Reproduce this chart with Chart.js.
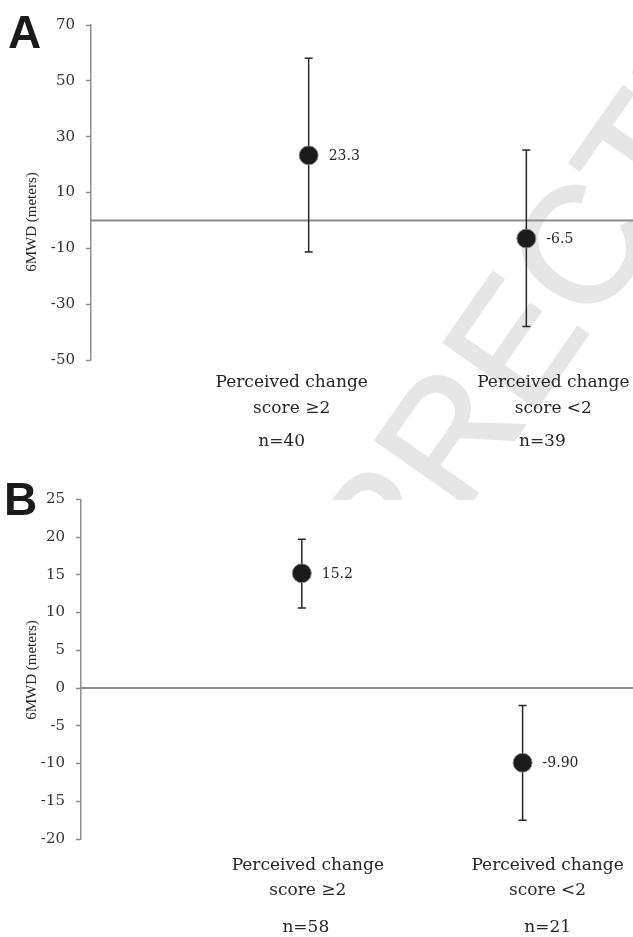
<!DOCTYPE html>
<html>
<head>
<meta charset="utf-8">
<script src="https://cdn.jsdelivr.net/npm/chart.js@4.4.1/dist/chart.umd.min.js"></script>
<style>
html, body { margin: 0; padding: 0; background: #fff; }
#wrap { position: relative; width: 633px; height: 937px; overflow: hidden; }
#chartA { position: absolute; left: 0; top: 0; }
#chartB { position: absolute; left: 0; top: 460px; }
</style>
</head>
<body>
<div id="wrap">
  <canvas id="chartA" width="633" height="500"></canvas>
  <canvas id="chartB" width="633" height="477"></canvas>
</div>
<script>
// --- DATA ---
const groups = [['Perceived change', 'score \u22652'], ['Perceived change', 'score <2']];
const groupX = [1, 2];

const nA = ['n=40', 'n=39'];
const meanA = [23.3, -6.5];
const lowA = [-11.3, -38.0];
const highA = [58.1, 25.2];
const textA = ['23.3', '-6.5'];
const ticksA = [-50, -30, -10, 10, 30, 50, 70];

const nB = ['n=58', 'n=21'];
const meanB = [15.2, -9.9];
const lowB = [10.6, -17.5];
const highB = [19.7, -2.3];
const textB = ['15.2', '-9.90'];
const ticksB = [-20, -15, -10, -5, 0, 5, 10, 15, 20, 25];

const yTitle = '6MWD (meters)';
const SERIF = '"DejaVu Serif", serif';
const GREY = '#8c8c8c';
const INK = '#262626';

// --- DATASETS ---
function buildDatasets(mean, low, high, xMax) {
    const ds = [{
        type: 'scatter',
        data: groupX.map((x, i) => ({ x: x, y: mean[i] })),
        pointRadius: 9.5,
        pointHoverRadius: 9.5,
        backgroundColor: '#1b1b1b',
        borderColor: '#8a8a8a',
        borderWidth: 1
    }];
    // error bars, caps drawn as 'line' point style
    groupX.forEach((x, i) => ds.push({
        type: 'line',
        data: [{ x: x, y: low[i] }, { x: x, y: high[i] }],
        borderColor: INK,
        borderWidth: 1.5,
        pointStyle: 'line',
        pointRadius: 4,
        pointHoverRadius: 4,
        pointBorderColor: INK,
        pointBorderWidth: 1.5
    }));
    // zero reference line
    ds.push({
        type: 'line',
        data: [{ x: 0, y: 0 }, { x: xMax, y: 0 }],
        borderColor: GREY,
        borderWidth: 2,
        pointRadius: 0
    });
    return ds;
}

// --- DECORATION PLUGIN (labels, titles, panel letter) ---
const decor = {
    id: 'decor',
    beforeDraw(chart, args, o) {
        const w = o.watermark;
        if (!w) return;
        const ctx = chart.ctx;
        ctx.save();
        ctx.fillStyle = '#e6e6e6';
        ctx.strokeStyle = '#e6e6e6';
        ctx.lineWidth = 2.5;
        ctx.lineJoin = 'round';
        ctx.font = w.size + 'px "Liberation Sans", sans-serif';
        ctx.translate(w.x, w.y);
        ctx.rotate(w.angle * Math.PI / 180);
        // anchor = centre of the C that follows "UNCORRE"
        const pre = ctx.measureText('UNCORRE').width + ctx.measureText('C').width / 2;
        const dy = w.size * 0.716 / 2;
        ctx.fillText('UNCORRECTED PROOF', -pre, dy);
        ctx.strokeText('UNCORRECTED PROOF', -pre, dy);
        ctx.restore();
    },
    afterDraw(chart, args, o) {
        const ctx = chart.ctx;
        const xs = chart.scales.x, ys = chart.scales.y;
        ctx.save();
        ctx.fillStyle = INK;

        // value labels next to markers
        ctx.font = '14px ' + SERIF;
        ctx.textAlign = 'left';
        ctx.textBaseline = 'middle';
        groupX.forEach((x, i) => {
            ctx.fillText(o.values[i], xs.getPixelForValue(x) + 20, ys.getPixelForValue(o.means[i]) + 1);
        });

        // category labels under the plot
        ctx.font = '17px ' + SERIF;
        ctx.textAlign = 'center';
        ctx.textBaseline = 'alphabetic';
        groupX.forEach((x, i) => {
            const px = xs.getPixelForValue(x);
            ctx.fillText(groups[i][0], px + o.labelDx[i], o.lines[0]);
            ctx.fillText(groups[i][1], px + o.labelDx[i], o.lines[1]);
            ctx.fillText(o.counts[i], px + o.countDx[i], o.lines[2]);
        });

        // y title
        ctx.save();
        ctx.translate(32, o.titleY);
        ctx.rotate(-Math.PI / 2);
        ctx.font = '15px "Liberation Serif", serif';
        ctx.textBaseline = 'middle';
        ctx.fillText(yTitle, 0, 0);
        ctx.restore();

        // panel letter
        ctx.fillStyle = '#1a1a1a';
        ctx.font = 'bold 46px "Liberation Sans", sans-serif';
        ctx.textAlign = 'left';
        ctx.fillText(o.letter, o.letterX, o.letterY);
        ctx.restore();
    }
};

function makeChart(id, cfg) {
    return new Chart(document.getElementById(id), {
        type: 'scatter',
        data: { datasets: buildDatasets(cfg.mean, cfg.low, cfg.high, cfg.xMax) },
        options: {
            responsive: false,
            animation: false,
            devicePixelRatio: 1,
            layout: { padding: cfg.padding, autoPadding: false },
            plugins: {
                legend: { display: false },
                tooltip: { enabled: false },
                decor: cfg.decor
            },
            scales: {
                x: { type: 'linear', min: 0, max: cfg.xMax, display: false },
                y: {
                    min: cfg.ticks[0],
                    max: cfg.ticks[cfg.ticks.length - 1],
                    afterBuildTicks: s => { s.ticks = cfg.ticks.map(v => ({ value: v })); },
                    afterFit: s => { s.width = cfg.axisX; },
                    border: { color: GREY, width: 1.5 },
                    grid: { drawOnChartArea: false, tickLength: 5, tickColor: GREY, tickWidth: 1.5 },
                    ticks: { padding: 11, color: '#333', font: { family: SERIF, size: 15 } }
                }
            }
        },
        plugins: [decor]
    });
}

makeChart('chartA', {
    mean: meanA, low: lowA, high: highA, ticks: ticksA,
    xMax: 2.49, axisX: 91,
    padding: { top: 25, bottom: 140, left: 0, right: 0 },
    decor: {
        values: textA, means: meanA, counts: nA,
        labelDx: [-17, 27], countDx: [-27, 16],
        lines: [386.7, 413, 446],
        titleY: 222, letter: 'A', letterX: 8, letterY: 48,
        watermark: { x: 578, y: 246, angle: -55, size: 165 }
    }
});

makeChart('chartB', {
    mean: meanB, low: lowB, high: highB, ticks: ticksB,
    xMax: 2.5, axisX: 81,
    padding: { top: 39.3, bottom: 98, left: 0, right: 0 },
    decor: {
        values: textB, means: meanB, counts: nB,
        labelDx: [6, 25], countDx: [4, 25],
        lines: [410, 435, 471.7],
        titleY: 210, letter: 'B', letterX: 4, letterY: 55,
        watermark: null
    }
});
</script>
</body>
</html>
